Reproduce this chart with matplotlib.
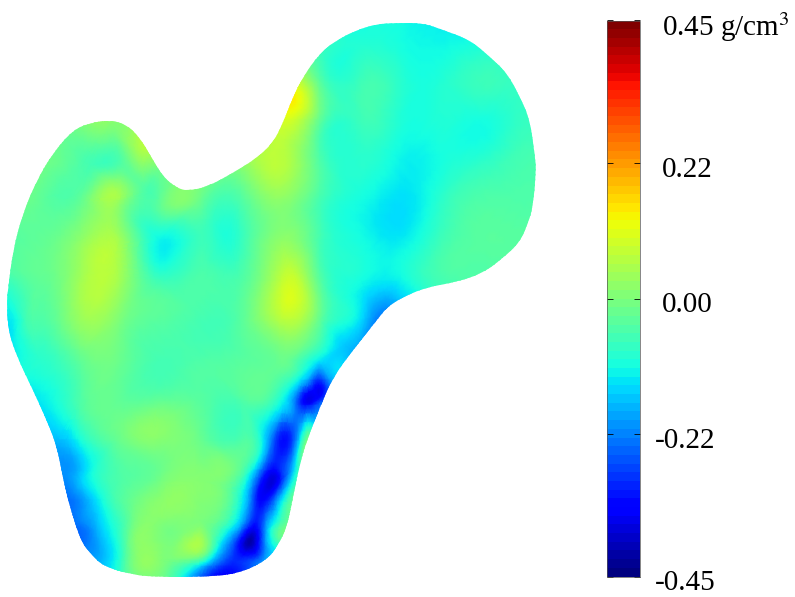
import numpy as np
import matplotlib
matplotlib.use("Agg")
import matplotlib.pyplot as plt
from matplotlib.colors import Normalize
from matplotlib.cm import ScalarMappable
from matplotlib.patches import PathPatch
from matplotlib.path import Path
from matplotlib.tri import Triangulation, UniformTriRefiner

plt.rcParams['font.family'] = ['Liberation Serif', 'DejaVu Serif']
plt.rcParams['mathtext.fontset'] = 'stix'

# outline of the femur (pixels)
outline_x = [7, 8, 13, 23, 37, 53, 73, 90, 110, 127, 140, 150, 163, 177, 187, 207, 233, 257, 273, 283,
             293, 303, 320, 337, 357, 377, 397, 423, 443, 470, 490, 507, 520, 530, 535, 536, 533, 528,
             520, 503, 483, 457, 427, 403, 387, 377, 353, 333, 320, 307, 300, 293, 287, 278, 267, 238,
             200, 160, 133, 103, 92, 82, 75, 68, 62, 57, 48, 33, 17, 8, 7]
outline_y = [300, 290, 250, 213, 180, 153, 130, 123, 120, 125, 138, 155, 177, 188, 191, 187, 173, 158, 143, 123,
             97, 77, 53, 40, 30, 24, 23, 23, 30, 40, 57, 73, 97, 120, 157, 170, 207, 223,
             242, 258, 273, 282, 287, 297, 307, 320, 350, 377, 407, 440, 463, 497, 527, 545, 560, 574,
             577, 577, 575, 566, 555, 543, 523, 500, 473, 447, 423, 390, 357, 330, 310]

# density change sampled on a coarse pixel grid
grid_x = [0, 40, 80, 120, 160, 200, 240, 280, 320, 360, 400, 440, 480, 520, 560]
grid_y = [0, 40, 80, 120, 160, 200, 240, 280, 320, 360, 400, 440, 480, 520, 560, 600]
grid_v = [
    [-.02, -.02, .00, .02, .02, .03, .05, .00, -.08, -.10, -.10, -.12, -.11, -.10, -.10],
    [-.02, -.02, .00, .02, .02, .03, .05, .00, -.07, -.10, -.11, -.12, -.11, -.10, -.10],
    [-.02, -.02, .00, .02, .02, .03, .07, .10, -.04, -.07, -.09, -.10, -.07, -.08, -.08],
    [-.02, -.02, .00, .01, .03, .04, .07, .10, -.03, -.07, -.10, -.10, -.11, -.08, -.08],
    [-.02, -.01, -.05, -.05, .01, .02, .02, .07, -.05, -.09, -.12, -.11, -.09, -.06, -.06],
    [-.02, -.03, -.03, .03, -.03, -.02, -.05, .02, -.06, -.11, -.14, -.09, -.05, -.05, -.05],
    [-.05, -.03, .02, .04, -.12, -.07, -.08, .02, -.06, -.11, -.13, -.07, -.04, -.04, -.04],
    [-.07, -.03, .04, .04, -.07, -.05, -.05, .07, -.04, -.11, -.12, -.06, -.05, -.05, -.05],
    [-.13, -.05, .03, .00, -.04, -.06, -.04, .06, -.03, -.14, -.20, -.10, -.05, -.05, -.05],
    [-.14, -.09, -.03, -.02, -.06, -.05, -.04, -.02, -.13, -.20, -.20, -.10, -.05, -.05, -.05],
    [-.14, -.13, -.05, -.03, -.03, -.04, -.05, -.10, -.30, -.25, -.20, -.10, -.05, -.05, -.05],
    [-.18, -.17, -.11, -.02, .01, -.02, -.05, -.32, -.10, -.10, -.10, -.10, -.05, -.05, -.05],
    [-.22, -.22, -.16, -.05, -.01, .01, -.06, -.32, -.05, -.05, -.05, -.05, -.05, -.05, -.05],
    [-.24, -.24, -.22, -.07, .01, .00, -.15, -.08, -.05, -.05, -.05, -.05, -.05, -.05, -.05],
    [-.22, -.22, -.21, -.09, .01, -.05, -.30, -.12, -.05, -.05, -.05, -.05, -.05, -.05, -.05],
    [-.22, -.22, -.21, -.07, .00, -.11, -.28, -.12, -.05, -.05, -.05, -.05, -.05, -.05, -.05],
]

# cross sections of the dark strip on the medial side
strip_x = [300, 309, 318, 330,  283, 296, 308, 318,  263, 273, 283, 292, 300,  253, 263, 273, 283, 293,
           243, 253, 263, 273, 283,  230, 242, 253, 265, 277,  220, 235, 250, 264, 277,  200, 213, 233, 263]
strip_y = [380, 380, 380, 380,  405, 405, 405, 405,  440, 440, 440, 440, 440,  470, 470, 470, 470, 470,
           500, 500, 500, 500, 500,  530, 530, 530, 530, 530,  545, 545, 545, 545, 545,  565, 565, 565, 565]
strip_v = [-.13, -.20, -.29, -.20,  -.13, -.24, -.33, -.26,  -.13, -.25, -.33, -.28, -.13,  -.13, -.26, -.34, -.28, -.16,
           -.13, -.26, -.34, -.26, -.12,  -.13, -.25, -.36, -.21, -.05,  -.13, -.28, -.41, -.23, -.09,  -.13, -.23, -.31, -.19]

# blue band on the lateral side
band_x = [58, 66, 80, 62, 75, 90, 68, 85, 100, 82, 95, 110, 100, 115, 125, 133, 130]
band_y = [440, 440, 440, 470, 470, 470, 500, 500, 500, 530, 530, 530, 560, 560, 560, 500, 530]
band_v = [-.17, -.16, -.12, -.21, -.19, -.12, -.24, -.19, -.12, -.24, -.19, -.12, -.18, -.12, -.05, -.02, -.02]

# bright ridges, neck and trochanter detail
extra_x = [298, 290, 300, 108, 115, 105, 120, 365, 340, 372, 345, 110, 140, 120, 90, 70, 145, 150, 175, 140, 180, 225, 305, 10, 25]
extra_y = [290, 263, 100, 260, 255, 225, 195, 290, 300, 318, 345, 125, 150, 160, 165, 190, 190, 430, 490, 540, 540, 240, 440, 320, 320]
extra_v = [.09, .06, .12, .07, .06, .04, .04, -.13, -.09, -.20, -.16, .01, .05, -.05, -.06, -.05, -.05, .02, .02, .02, .01, -.10, -.03, -.13, -.07]

# colorbar
tick_values = [0.45, 0.22, 0.00, -0.22, -0.45]
tick_labels = ['0.45 g/cm$^3$', '0.22', '0.00', '-0.22', '-0.45']

gx, gy = np.meshgrid(grid_x, grid_y)
xs = np.concatenate([gx.ravel(), strip_x, band_x, extra_x])
ys = np.concatenate([gy.ravel(), strip_y, band_y, extra_y])
vs = np.concatenate([np.array(grid_v).ravel(), strip_v, band_v, extra_v])

norm = Normalize(-0.45, 0.45)

fig = plt.figure(figsize=(7.95, 5.97), dpi=100)
ax = fig.add_axes([0, 0, 1, 1])
ax.set_xlim(0, 795)
ax.set_ylim(597, 0)
ax.axis('off')

# smooth outline: quadratic curves through the midpoints of the read-off points
pts = np.column_stack([outline_x[:-1], outline_y[:-1]]).astype(float)
mids = (pts + np.roll(pts, -1, axis=0)) / 2
verts = [mids[-1]]
codes = [Path.MOVETO]
for p, m in zip(pts, mids):
    verts += [p, m]
    codes += [Path.CURVE3, Path.CURVE3]
femur = PathPatch(Path(verts, codes), facecolor='none', edgecolor='none', transform=ax.transData)
ax.add_patch(femur)

tri_fine, vs_fine = UniformTriRefiner(Triangulation(xs, ys)).refine_field(vs, subdiv=3)
mesh = ax.tripcolor(tri_fine, vs_fine, shading='gouraud', cmap='jet', norm=norm)
mesh.set_clip_path(femur)

cax = fig.add_axes([607 / 795, (597 - 576.5) / 597, 33 / 795, 556 / 597])
bar = fig.colorbar(ScalarMappable(norm=norm, cmap=plt.get_cmap('jet', 64)), cax=cax)
bar.outline.set_linewidth(0.5)
bar.outline.set_edgecolor('#555555')
bar.set_ticks(tick_values)
cax.tick_params(left=True, right=True, direction='in', length=4, width=0.6, labelright=False)

for v, lab in zip(tick_values, tick_labels):
    dx = 15 if v < 0 else 22
    cax.annotate(lab, xy=(1, v), xycoords=('axes fraction', 'data'), xytext=(dx, -7),
                 textcoords='offset pixels', fontsize=21, va='center', ha='left', color='black')

fig.savefig('out.png', dpi=100)
